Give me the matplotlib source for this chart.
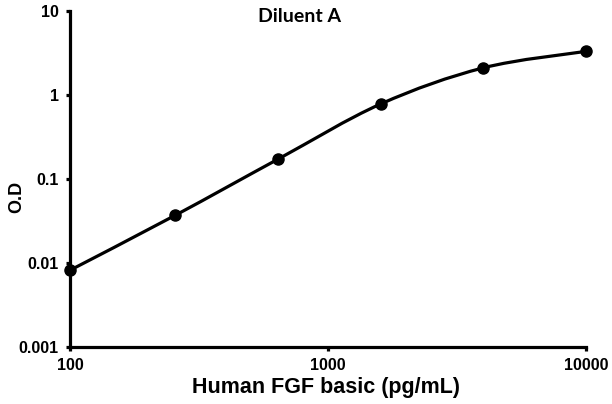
import numpy as np
import matplotlib
matplotlib.use("Agg")
import matplotlib.pyplot as plt
from matplotlib.path import Path
from matplotlib.patches import PathPatch
from matplotlib.ticker import FixedLocator, NullLocator

plt.rcParams["font.family"] = ["Liberation Sans", "DejaVu Sans"]
plt.rcParams["font.weight"] = "bold"

# standard curve, Diluent A
conc = [100, 256, 640, 1600, 4000, 10000]
od = [0.0082, 0.037, 0.172, 0.78, 2.1, 3.3]
x_ticks = [100, 1000, 10000]
x_labels = ["100", "1000", "10000"]
y_ticks = [0.001, 0.01, 0.1, 1, 10]
y_labels = ["0.001", "0.01", "0.1", "1", "10"]

fig = plt.figure(figsize=(6.12, 4.04), dpi=100)
ax = fig.add_axes([0.1144, 0.141, 0.843, 0.832])
ax.set_xscale("log")
ax.set_yscale("log")
ax.set_xlim(100, 10000)
ax.set_ylim(0.001, 10)

# smooth line like Excel: Catmull-Rom bezier in log space
lx = np.log10(conc)
ly = np.log10(od)
n = len(lx)
verts = [(lx[0], ly[0])]
codes = [Path.MOVETO]
for i in range(n - 1):
    p0 = (lx[max(i - 1, 0)], ly[max(i - 1, 0)])
    p1 = (lx[i], ly[i])
    p2 = (lx[i + 1], ly[i + 1])
    p3 = (lx[min(i + 2, n - 1)], ly[min(i + 2, n - 1)])
    c1 = (p1[0] + (p2[0] - p0[0]) / 6, p1[1] + (p2[1] - p0[1]) / 6)
    c2 = (p2[0] - (p3[0] - p1[0]) / 6, p2[1] - (p3[1] - p1[1]) / 6)
    verts += [c1, c2, p2]
    codes += [Path.CURVE4] * 3
verts = [(10 ** a, 10 ** b) for a, b in verts]
ax.add_patch(PathPatch(Path(verts, codes), fill=False, lw=2.3, ec="black",
                       transform=ax.transData, zorder=3, clip_on=False))
ax.plot(conc, od, "o", color="black", ms=8, zorder=4, clip_on=False)

for s in ["top", "right"]:
    ax.spines[s].set_visible(False)
for s in ["left", "bottom"]:
    ax.spines[s].set_linewidth(2.3)

ax.xaxis.set_major_locator(FixedLocator(x_ticks))
ax.yaxis.set_major_locator(FixedLocator(y_ticks))
ax.xaxis.set_minor_locator(NullLocator())
ax.yaxis.set_minor_locator(NullLocator())
ax.set_xticklabels(x_labels)
ax.set_yticklabels(y_labels)
ax.tick_params(axis="both", which="major", length=3, width=2.3, direction="out",
               labelsize=11.5, pad=5, color="black")

fig.text(326 / 612, 1 - 388 / 404, "Human FGF basic (pg/mL)", ha="center", va="center",
         fontsize=15.5, fontweight="bold")
fig.text(17 / 612, 1 - 197 / 404, "O.D", rotation=90, ha="center", va="center",
         fontsize=13, fontweight="bold")
fig.text(300 / 612, 1 - 17 / 404, "Diluent A", ha="center", va="center",
         fontsize=14, fontweight="bold", family=["Lato", "DejaVu Sans"])

fig.savefig("out.png", dpi=100)
